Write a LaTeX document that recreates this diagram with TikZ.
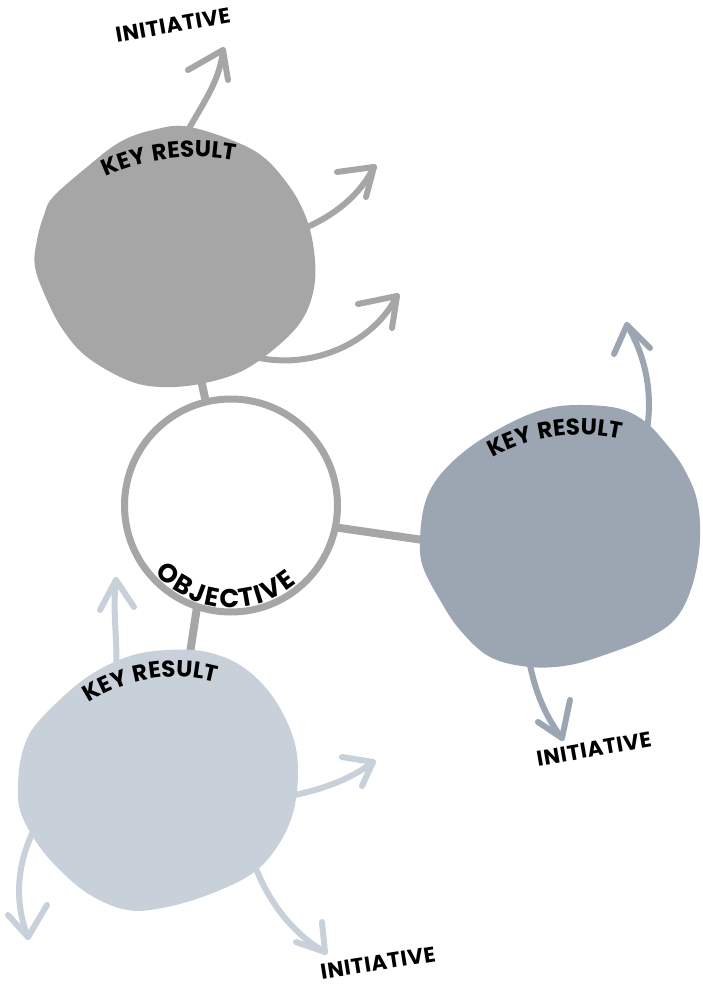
\documentclass[tikz,border=0pt]{standalone}
\usepackage{fontspec}
\newfontfamily\lblfont[LetterSpace=6]{Poppins}
\newfontfamily\objfont[WordSpace=0.33]{Poppins}
\newfontfamily\initfont[LetterSpace=3]{Poppins}
\usetikzlibrary{decorations.text,calc}
\definecolor{grayA}{HTML}{A6A6A6}
\definecolor{slateB}{HTML}{9BA6B2}
\definecolor{paleC}{HTML}{C8D0DA}
\begin{document}
\begin{tikzpicture}[x=1pt,y=1pt,
  conn/.style={grayA,line width=8,line cap=round},
  arrshaft/.style={line width=6,line cap=round,line join=round},
  initlabel/.style={font=\initfont\bfseries\fontsize{21.5}{21.5}\selectfont,inner sep=0pt}]
\path[use as bounding box] (0,0) rectangle (703,-986);

% connectors (behind shapes)
\coordinate (cTop1) at (199,-370);
\coordinate (cTop2) at (205,-398);
\coordinate (cR1) at (333,-527);
\coordinate (cR2) at (430,-541);
\coordinate (cB1) at (197,-607);
\coordinate (cB2) at (189,-660);
\draw[conn] (cTop1) -- (cTop2);
\draw[conn] (cR1) -- (cR2);
\draw[conn] (cB1) -- (cB2);

% arrows of top blob
\coordinate (a1s) at (187,-132); \coordinate (a1t) at (223,-50);
\coordinate (a1l) at (188,-70);  \coordinate (a1r) at (228,-80);
\draw[arrshaft,grayA] (a1s) .. controls (205,-100) and (220,-80) .. (a1t);
\draw[arrshaft,grayA] (a1l) -- (a1t) -- (a1r);
\coordinate (a2s) at (305,-228); \coordinate (a2t) at (374,-167);
\coordinate (a2l) at (337,-172); \coordinate (a2r) at (366,-197);
\draw[arrshaft,grayA] (a2s) .. controls (335,-215) and (360,-195) .. (a2t);
\draw[arrshaft,grayA] (a2l) -- (a2t) -- (a2r);
\coordinate (a3s) at (255,-357); \coordinate (a3t) at (397,-296);
\coordinate (a3l) at (358,-304); \coordinate (a3r) at (392,-328);
\draw[arrshaft,grayA] (a3s) .. controls (310,-370) and (372,-345) .. (a3t);
\draw[arrshaft,grayA] (a3l) -- (a3t) -- (a3r);

% arrows of right blob
\coordinate (a4s) at (645,-440); \coordinate (a4t) at (627,-325);
\coordinate (a4l) at (614,-354); \coordinate (a4r) at (650,-348);
\draw[arrshaft,slateB] (a4s) .. controls (655,-395) and (645,-355) .. (a4t);
\draw[arrshaft,slateB] (a4l) -- (a4t) -- (a4r);
\coordinate (a5s) at (528,-655); \coordinate (a5t) at (562,-738);
\coordinate (a5l) at (538,-722); \coordinate (a5r) at (570,-700);
\draw[arrshaft,slateB] (a5s) .. controls (535,-695) and (548,-720) .. (a5t);
\draw[arrshaft,slateB] (a5l) -- (a5t) -- (a5r);

% arrows of bottom blob
\coordinate (a6s) at (116,-675); \coordinate (a6t) at (116,-580);
\coordinate (a6l) at (100,-610); \coordinate (a6r) at (134,-607);
\draw[arrshaft,paleC] (a6s) .. controls (118,-640) and (112,-610) .. (a6t);
\draw[arrshaft,paleC] (a6l) -- (a6t) -- (a6r);
\coordinate (a7s) at (290,-796); \coordinate (a7t) at (373,-762);
\coordinate (a7l) at (342,-757); \coordinate (a7r) at (362,-786);
\draw[arrshaft,paleC] (a7s) .. controls (320,-790) and (350,-780) .. (a7t);
\draw[arrshaft,paleC] (a7l) -- (a7t) -- (a7r);
\coordinate (a8s) at (36,-826); \coordinate (a8t) at (28,-937);
\coordinate (a8l) at (8,-915);  \coordinate (a8r) at (47,-905);
\draw[arrshaft,paleC] (a8s) .. controls (15,-865) and (15,-905) .. (a8t);
\draw[arrshaft,paleC] (a8l) -- (a8t) -- (a8r);
\coordinate (a9s) at (255,-866); \coordinate (a9t) at (325,-952);
\coordinate (a9l) at (296,-942); \coordinate (a9r) at (322,-922);
\draw[arrshaft,paleC] (a9s) .. controls (270,-905) and (295,-935) .. (a9t);
\draw[arrshaft,paleC] (a9l) -- (a9t) -- (a9r);

% blobs
\fill[grayA] plot[smooth cycle,tension=0.6] coordinates {
 (190,-127) (253,-150) (287,-183) (307,-220) (315,-260) (313,-293) (300,-323)
 (273,-350) (240,-372) (200,-384) (160,-387) (127,-380) (87,-357) (63,-330)
 (47,-300) (35,-267) (37,-240) (44,-215) (53,-197) (87,-167) (120,-142) (153,-130)};
\fill[slateB] plot[smooth cycle,tension=0.6] coordinates {
 (577,-405) (617,-408) (643,-420) (663,-440) (683,-467) (697,-500) (700,-540)
 (693,-583) (677,-617) (650,-637) (610,-653) (570,-665) (530,-667) (490,-657)
 (460,-630) (440,-600) (423,-567) (420,-540) (425,-503) (440,-475) (470,-447)
 (510,-423) (545,-409)};
\fill[paleC] plot[smooth cycle,tension=0.6] coordinates {
 (167,-650) (207,-652) (243,-667) (273,-697) (293,-737) (298,-773) (293,-813)
 (277,-847) (253,-873) (213,-893) (167,-907) (127,-910) (87,-893) (53,-863)
 (33,-837) (20,-810) (18,-783) (23,-750) (38,-722) (83,-680) (127,-657)};

% objective circle
\node[circle,draw=grayA,line width=7,fill=white,minimum size=213,inner sep=0] (obj) at (231,-505.5) {};

% curved labels
\path[decorate,decoration={text along path,text align=center,
  text={|\lblfont\bfseries\fontsize{23}{23}\selectfont|KEY RESULT}}]
  ($(195,-369)+(137:212)$) arc[start angle=137,end angle=57,radius=212];
\path[decorate,decoration={text along path,text align=center,
  text={|\lblfont\bfseries\fontsize{23}{23}\selectfont|KEY RESULT}}]
  ($(580,-615)+(140:180)$) arc[start angle=140,end angle=56,radius=180];
\path[decorate,decoration={text along path,text align=center,
  text={|\lblfont\bfseries\fontsize{23}{23}\selectfont|KEY RESULT}}]
  ($(175,-834)+(148:157)$) arc[start angle=148,end angle=50,radius=157];
\path[decorate,decoration={text along path,text align=center,
  text={|\objfont\bfseries\fontsize{26}{26}\selectfont|O B J E C T I V E}}]
  ($(obj.center)+(195:102)$) arc[start angle=195,end angle=337,radius=102];

% straight labels
\node[initlabel,rotate=10] (i1) at (173,-25) {INITIATIVE};
\node[initlabel,rotate=10] (i2) at (594,-749) {INITIATIVE};
\node[initlabel,rotate=9] (i3) at (378,-963) {INITIATIVE};
\end{tikzpicture}
\end{document}
